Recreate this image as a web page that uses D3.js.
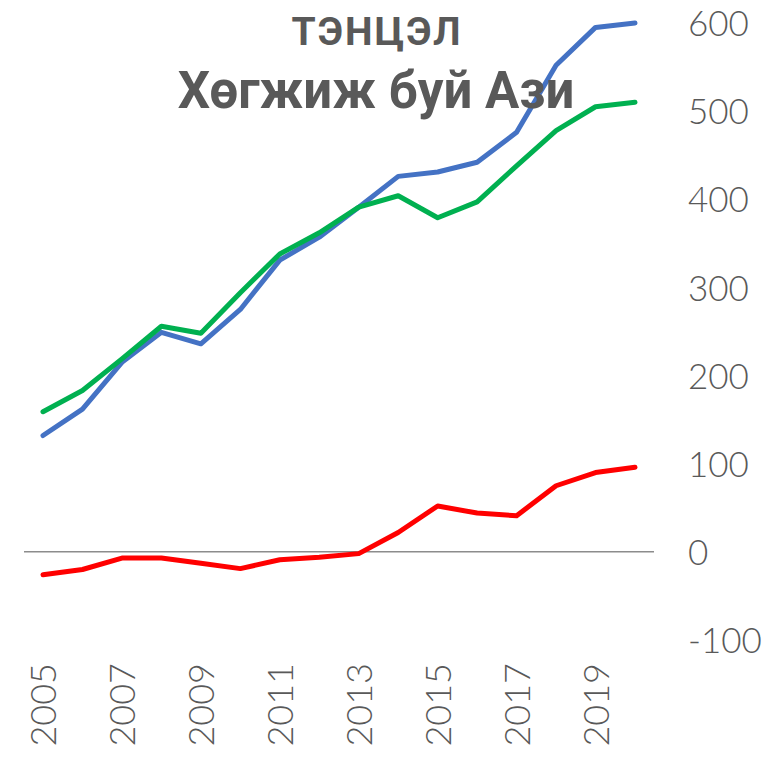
<!DOCTYPE html>
<html>
<head>
<meta charset="utf-8">
<script src="https://cdn.jsdelivr.net/npm/d3@7"></script>
<style>
  html, body { margin: 0; padding: 0; background: #fff; }
  svg { display: block; }
</style>
</head>
<body>
<svg id="chart"></svg>
<script>
// Data
const years = d3.range(2005, 2021);
const blueValues = [132, 162, 215, 249, 236, 275, 331, 357, 391, 426, 431, 442, 476, 552, 595, 600];
const greenValues = [159, 183, 219, 256, 248, 294, 338, 362, 391, 404, 379, 397, 438, 478, 505, 510];
const redValues = [-26, -20, -7, -7, -13, -19, -9, -6, -2, 22, 52, 44, 41, 75, 90, 96];
const yTicks = [-100, 0, 100, 200, 300, 400, 500, 600];
const xTickYears = [2005, 2007, 2009, 2011, 2013, 2015, 2017, 2019];
const titleLines = ["ТЭНЦЭЛ", "Хөгжиж буй Ази"];

const series = [
  {name: "blue", values: blueValues, color: "#4472C4"},
  {name: "green", values: greenValues, color: "#00B050"},
  {name: "red", values: redValues, color: "#FF0000"}
];

// Configurations
let width = 781
let height = 757
let textColor = "#595959"
let tickFont = "Lato, 'DejaVu Sans', sans-serif"

const svg = d3.select("#chart")
    .attr("width", width)
    .attr("height", height)
    .attr("viewBox", [0, 0, width, height]);

const xScale = d3.scalePoint(years, [43, 635]);
const yScale = d3.scaleLinear([-100, 600], [640, 23]);

// zero line
svg.append("line")
    .attr("x1", 24)
    .attr("x2", 654)
    .attr("y1", yScale(0))
    .attr("y2", yScale(0))
    .attr("stroke", "#8c8c8c")
    .attr("stroke-width", 1.5);

// y axis on the right, labels only (plain hyphen for negatives)
const yAxis = d3.axisRight(yScale)
    .tickValues(yTicks)
    .tickFormat(d => String(d))
    .tickSize(0)
    .tickPadding(0);
svg.append("g")
    .attr("transform", "translate(688,0)")
    .call(yAxis)
    .call(g => g.select(".domain").remove())
    .call(g => g.selectAll("text")
        .attr("fill", textColor)
        .attr("font-family", tickFont)
        .attr("font-weight", 300)
        .attr("font-size", 35)
        .attr("dy", "0.36em"));

// x axis, rotated year labels
const xAxis = d3.axisBottom(xScale).tickValues(xTickYears).tickSize(0).tickPadding(0);
svg.append("g")
    .attr("transform", "translate(0,663)")
    .call(xAxis)
    .call(g => g.select(".domain").remove())
    .call(g => g.selectAll("text")
        .attr("fill", textColor)
        .attr("font-family", tickFont)
        .attr("font-weight", 300)
        .attr("font-size", 36)
        .attr("y", 0)
        .attr("dy", "0.36em")
        .attr("transform", "rotate(-90)")
        .attr("text-anchor", "end"));

// lines
const line = d3.line()
    .x((d, i) => xScale(years[i]))
    .y(d => yScale(d));

svg.append("g")
    .selectAll("path")
    .data(series)
    .join("path")
    .attr("fill", "none")
    .attr("stroke", d => d.color)
    .attr("stroke-width", 5)
    .attr("stroke-linejoin", "round")
    .attr("stroke-linecap", "round")
    .attr("d", d => line(d.values));

// title
svg.append("text")
    .attr("x", 377)
    .attr("y", 45)
    .attr("text-anchor", "middle")
    .attr("fill", textColor)
    .attr("font-family", "Roboto, 'DejaVu Sans', sans-serif")
    .attr("font-weight", 700)
    .attr("font-size", 39)
    .attr("letter-spacing", 2)
    .text(titleLines[0]);

svg.append("text")
    .attr("x", 376)
    .attr("y", 108)
    .attr("text-anchor", "middle")
    .attr("fill", textColor)
    .attr("font-family", "Roboto, 'DejaVu Sans', sans-serif")
    .attr("font-weight", 700)
    .attr("font-size", 51)
    .text(titleLines[1]);
</script>
</body>
</html>
